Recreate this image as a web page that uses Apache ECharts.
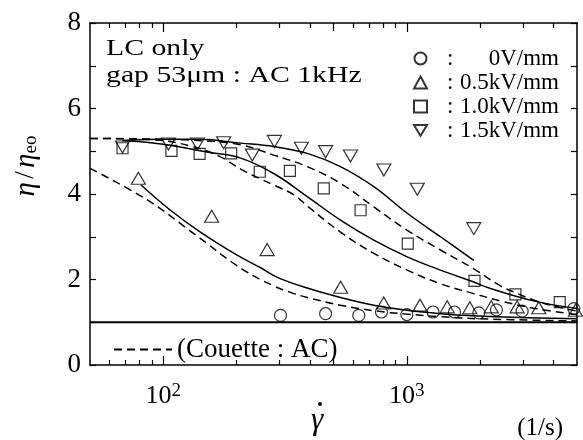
<!DOCTYPE html>
<html>
<head>
<meta charset="utf-8">
<script src="https://cdn.jsdelivr.net/npm/echarts@6/dist/echarts.min.js"></script>
<style>
  html, body { margin: 0; padding: 0; background: #fff; }
  #chart { width: 583px; height: 440px; }
</style>
</head>
<body>
<div id="chart"></div>
<script>
// shear rate (1/s) and relative viscosity
const gamma0 = [303, 464, 635, 787, 1000, 1282, 1570, 1976, 2334, 2976, 4850];
const eta0 = [1.16, 1.20, 1.16, 1.24, 1.18, 1.24, 1.24, 1.22, 1.29, 1.26, 1.32];

const gamma05 = [79, 158, 267, 535, 804, 1133, 1466, 1815, 2222, 2838, 3484, 4930];
const eta05 = [4.37, 3.48, 2.70, 1.82, 1.45, 1.40, 1.36, 1.34, 1.36, 1.36, 1.34, 1.28];

const gamma10 = [68, 108, 141, 190, 249, 331, 456, 646, 1009, 1897, 2793, 4246];
const eta10 = [5.07, 5.01, 4.94, 4.95, 4.52, 4.54, 4.13, 3.62, 2.84, 1.97, 1.65, 1.47];

const gamma15 = [68, 105, 138, 177, 232, 286, 369, 464, 587, 805, 1104, 1884];
const eta15 = [5.10, 5.17, 5.17, 5.20, 4.91, 5.23, 5.07, 4.99, 4.89, 4.56, 4.11, 3.19];

// fitted curves (solid) and Couette AC predictions (dashed)
const fit05X = [81, 107, 142, 201, 250, 294, 390, 534, 732, 1004, 1375, 1884, 2500, 5000];
const fit05Y = [4.21, 3.62, 3.11, 2.57, 2.28, 2.05, 1.80, 1.58, 1.40, 1.28, 1.20, 1.15, 1.12, 1.08];
const cou05X = [50, 86, 133, 210, 284, 344, 390, 534, 732, 1004, 1375, 2000, 5000];
const cou05Y = [4.60, 3.86, 3.08, 2.25, 1.85, 1.67, 1.58, 1.40, 1.27, 1.19, 1.13, 1.08, 1.03];

const fit10X = [68, 98, 156, 208, 284, 390, 534, 732, 1004, 1375, 1884, 2206, 3313, 5000];
const fit10Y = [5.25, 5.17, 4.97, 4.84, 4.48, 3.94, 3.39, 2.92, 2.53, 2.22, 1.94, 1.79, 1.50, 1.32];
const cou10X = [50, 90, 130, 170, 208, 251, 284, 344, 390, 534, 732, 1004, 1375, 1884, 2500, 3313, 5000];
const cou10Y = [5.30, 5.27, 5.12, 4.88, 4.58, 4.35, 4.21, 3.98, 3.72, 3.11, 2.61, 2.22, 1.90, 1.67, 1.48, 1.33, 1.18];

const fit15X = [68, 100, 140, 208, 284, 390, 534, 732, 1004, 1375, 1884];
const fit15Y = [5.25, 5.28, 5.28, 5.19, 5.11, 4.95, 4.64, 4.17, 3.55, 3.00, 2.45];
const cou15X = [50, 100, 150, 208, 284, 390, 534, 732, 1004, 1375, 1884, 2425, 2852, 3313, 3890, 5000];
const cou15Y = [5.30, 5.28, 5.24, 5.15, 4.91, 4.64, 4.25, 3.70, 3.15, 2.69, 2.25, 1.85, 1.67, 1.52, 1.40, 1.26];

const baseX = [50, 5000];
const baseY = [1, 1];

const legendNames = ['0V/mm', '0.5kV/mm', '1.0kV/mm', '1.5kV/mm'];
const couetteName = '(Couette : AC)';

const majorTicks = [2, 3];
const minorTicks = [60, 70, 80, 90, 200, 300, 400, 600, 700, 800, 900, 2000, 3000, 4000];
const midTicks = [500];

const serif = 'Liberation Serif';
const lg = Math.log10;
const pts = (xs, ys) => xs.map((x, i) => [lg(x), ys[i]]);

const hollow = { color: 'rgba(0,0,0,0)', borderColor: '#000', borderWidth: 1.2 };
const downTriangle = 'path://M0,0L12,0L6,10Z';

function scatter(name, xs, ys, symbol, size) {
  return {
    name,
    type: 'scatter',
    data: pts(xs, ys),
    symbol,
    symbolSize: size,
    itemStyle: hollow,
    z: 5,
  };
}

function curve(name, xs, ys, dashed, width) {
  return {
    name,
    type: 'line',
    data: pts(xs, ys),
    smooth: 0.4,
    symbol: 'none',
    lineStyle: { color: '#000', width: width || 1.5, type: dashed ? [8, 5] : 'solid' },
    itemStyle: { color: '#000' },
    z: 3,
  };
}

function xAxisPart(position, ticks, len, showLine) {
  return {
    type: 'value',
    position,
    min: lg(50),
    max: lg(5000),
    axisLine: { show: showLine, lineStyle: { color: '#000', width: 1.5 } },
    axisTick: { show: true, inside: true, length: len, customValues: ticks, lineStyle: { color: '#000', width: 1.2 } },
    axisLabel: { show: false },
    splitLine: { show: false },
  };
}

const chart = echarts.init(document.getElementById('chart'));
chart.setOption({
  animation: false,
  backgroundColor: '#fff',
  grid: { left: 90, right: 6, top: 23, bottom: 75 },
  xAxis: [
    {
      type: 'value',
      position: 'bottom',
      min: lg(50),
      max: lg(5000),
      axisLine: { lineStyle: { color: '#000', width: 1.5 } },
      axisTick: { inside: true, length: 9, customValues: majorTicks, lineStyle: { color: '#000', width: 1.2 } },
      axisLabel: {
        customValues: majorTicks,
        margin: 17,
        formatter: (v) => '{b|10}{s|' + v + '}',
        rich: {
          b: { fontFamily: serif, fontSize: 26, color: '#000', lineHeight: 28 },
          s: { fontFamily: serif, fontSize: 19, color: '#000', verticalAlign: 'top', lineHeight: 28 },
        },
      },
      splitLine: { show: false },
    },
    xAxisPart('bottom', minorTicks.map(lg), 5, false),
    xAxisPart('bottom', midTicks.map(lg), 8, false),
    xAxisPart('top', majorTicks, 9, true),
    xAxisPart('top', minorTicks.map(lg), 5, false),
    xAxisPart('top', midTicks.map(lg), 8, false),
  ],
  yAxis: [
    {
      type: 'value',
      min: 0,
      max: 8,
      interval: 1,
      axisLine: { show: true, lineStyle: { color: '#000', width: 1.5 } },
      axisTick: { show: true, inside: true, length: 6, lineStyle: { color: '#000', width: 1.2 } },
      axisLabel: {
        margin: 9,
        fontFamily: serif,
        fontSize: 27,
        color: '#000',
        formatter: (v) => (v % 2 === 0 ? String(v) : ''),
      },
      splitLine: { show: false },
    },
    {
      type: 'value',
      position: 'right',
      min: 0,
      max: 8,
      interval: 1,
      axisLine: { show: true, lineStyle: { color: '#000', width: 1.5 } },
      axisTick: { show: true, inside: true, length: 6, lineStyle: { color: '#000', width: 1.2 } },
      axisLabel: { show: false },
      splitLine: { show: false },
    },
  ],
  legend: [
    {
      data: legendNames,
      orient: 'vertical',
      left: 413,
      top: 47,
      padding: 0,
      itemWidth: 13,
      itemHeight: 12,
      itemGap: 1,
      selectedMode: false,
      formatter: (name) => '{c|:}{v|' + name + '}',
      textStyle: {
        rich: {
          c: { fontFamily: serif, fontSize: 23, color: '#000', width: 8, padding: [0, 0, 0, 15], lineHeight: 24 },
          v: { fontFamily: serif, fontSize: 23, color: '#000', width: 104, align: 'right', lineHeight: 24 },
        },
      },
    },
    {
      data: [couetteName],
      left: 113,
      top: 336,
      padding: 0,
      itemWidth: 58,
      itemHeight: 14,
      selectedMode: false,
      itemStyle: { opacity: 0 },
      textStyle: { fontFamily: serif, fontSize: 27, color: '#000', padding: [0, 0, 0, 0] },
    },
  ],
  graphic: [
    { type: 'text', x: 106, y: 49, scaleX: 1.24, style: { text: 'LC only', font: '24px "Liberation Serif"', fill: '#000', verticalAlign: 'middle' } },
    { type: 'text', x: 106, y: 76, scaleX: 1.24, style: { text: 'gap 53\u03bcm : AC 1kHz', font: '24px "Liberation Serif"', fill: '#000', verticalAlign: 'middle' } },
    { type: 'text', x: 317, y: 421, style: { text: '\u03b3', font: 'italic 31px "Liberation Serif"', fill: '#000', align: 'center', verticalAlign: 'middle' } },
    { type: 'circle', shape: { cx: 320, cy: 404, r: 1.9 }, style: { fill: '#000' } },
    { type: 'text', x: 563, y: 428, style: { text: '(1/s)', font: '25px "Liberation Serif"', fill: '#000', align: 'right', verticalAlign: 'middle' } },
    {
      type: 'text',
      x: 26,
      y: 166,
      rotation: Math.PI / 2,
      style: {
        text: '{i|\u03b7} {r|/} {i|\u03b7}{s|eo}',
        align: 'center',
        verticalAlign: 'middle',
        rich: {
          i: { font: 'italic 29px "Liberation Serif"', fill: '#000', lineHeight: 30 },
          r: { font: '27px "Liberation Serif"', fill: '#000', lineHeight: 30 },
          s: { font: '19px "Liberation Serif"', fill: '#000', lineHeight: 30, verticalAlign: 'bottom' },
        },
      },
    },
  ],
  series: [
    curve('base', baseX, baseY, false, 2.2),
    curve('fit05', fit05X, fit05Y, false),
    curve('fit10', fit10X, fit10Y, false),
    curve('fit15', fit15X, fit15Y, false),
    curve(couetteName, cou05X, cou05Y, true),
    curve(couetteName, cou10X, cou10Y, true),
    curve(couetteName, cou15X, cou15Y, true),
    scatter(legendNames[0], gamma0, eta0, 'circle', 12),
    scatter(legendNames[1], gamma05, eta05, 'triangle', [14, 12]),
    scatter(legendNames[2], gamma10, eta10, 'rect', 11),
    scatter(legendNames[3], gamma15, eta15, downTriangle, [14, 12]),
  ],
});
</script>
</body>
</html>
